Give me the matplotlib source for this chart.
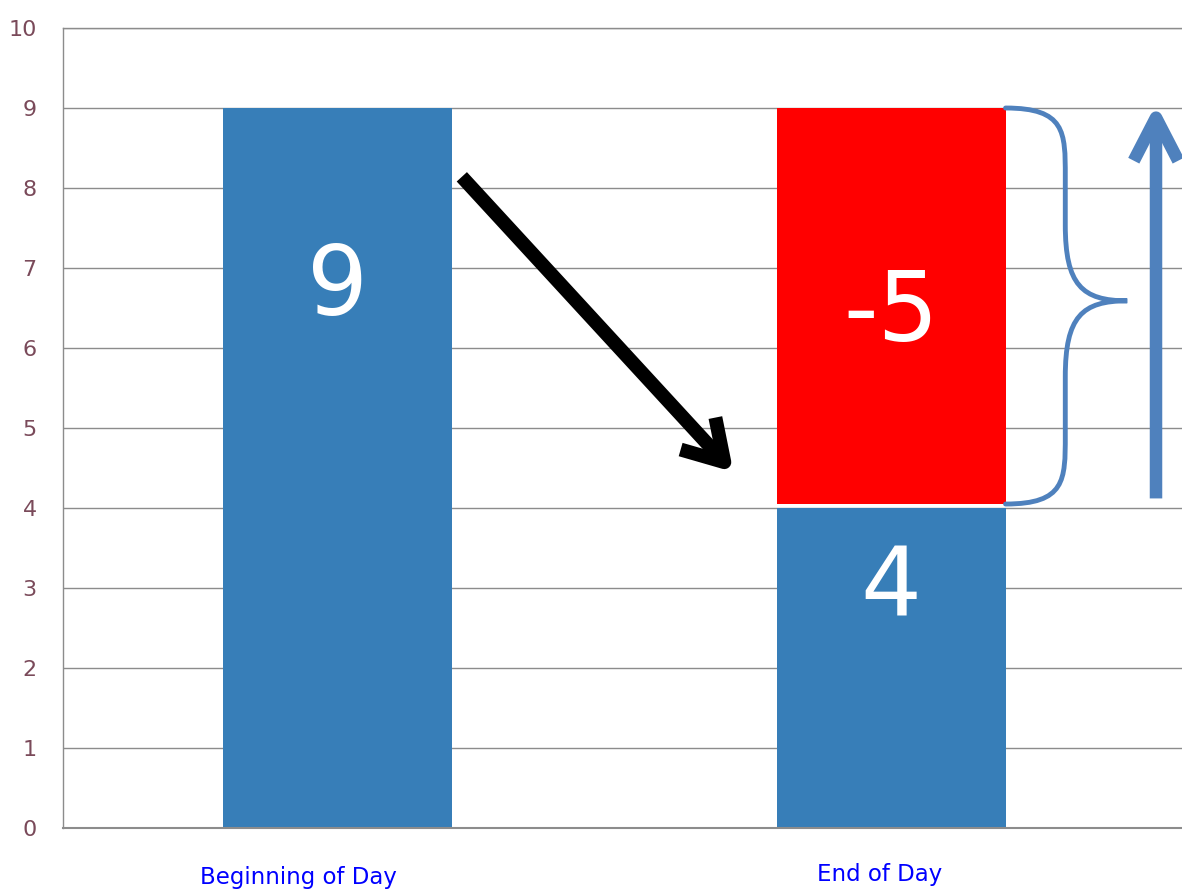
import matplotlib.pyplot as plt
from matplotlib.path import Path
from matplotlib.patches import PathPatch

# data
categories = ["Beginning of Day", "End of Day"]
start_value = 9
end_value = 4
change = -5
yticks = list(range(0, 11))

blue = '#377EB8'
red = '#FF0000'
accent = '#4F81BD'
tick_color = '#7A4A5A'

fig = plt.figure(figsize=(11.82, 8.92), dpi=100)
ax = fig.add_axes([0.0533, 0.0717, 0.9467, 0.8969])

bar_w = 0.414
x = [0, 1]
ax.bar(x[0], start_value, width=bar_w, color=blue, zorder=2)
ax.bar(x[1], end_value, width=bar_w, color=blue, zorder=2)
gap = 0.05
ax.bar(x[1], -change - gap, bottom=end_value + gap, width=bar_w, color=red, zorder=2)

ax.set_xlim(-0.497, 1.526)
ax.set_ylim(0, 10)
ax.set_yticks(yticks)
ax.set_xticks([])
ax.tick_params(axis='y', length=0, pad=19, labelsize=16, labelcolor=tick_color)
ax.yaxis.grid(True, color='#8c8c8c', lw=1.0)
ax.set_axisbelow(True)
ax.spines['right'].set_visible(False)
for s in ['left', 'bottom', 'top']:
    ax.spines[s].set_color('#8c8c8c')
    ax.spines[s].set_linewidth(1.0)
ax.spines['bottom'].set_linewidth(1.5)

# value labels inside the bars
big = 69
ax.text(x[0], start_value - 2.25, str(start_value), color='white', fontsize=big,
        ha='center', va='center', zorder=3)
ax.text(x[1], end_value - 1.02, str(end_value), color='white', fontsize=big,
        ha='center', va='center', zorder=3)
ax.text(x[1], end_value - change / 2 - 0.08, str(change), color='white', fontsize=big,
        ha='center', va='center', zorder=3)

# category labels below
ax.text(x[0] - 0.072, -0.62, categories[0], color='#0000FF', fontsize=16.5,
        ha='center', va='center', clip_on=False)
ax.text(x[1] - 0.021, -0.58, categories[1], color='#0000FF', fontsize=16.5,
        ha='center', va='center', clip_on=False)

# black arrow from first bar toward the end value
ax.annotate('', xy=(0.715, 4.45), xytext=(0.224, 8.14),
            arrowprops=dict(arrowstyle='->,head_length=2.8,head_width=1.7',
                            color='black', lw=10, shrinkA=0, shrinkB=0,
                            capstyle='butt'), zorder=4)

# curly brace beside the red segment
x0 = x[1] + bar_w / 2
xv = 1.315
xt = 1.427
top = start_value
bot = end_value + gap
mid = 6.59
verts = [
    (x0, top), (xv, top), (xv, top - 0.3), (xv, top - 0.85),
    (xv, mid + 0.95),
    (xv, mid + 0.2), (xv + 0.03, mid), (xt, mid),
    (xv + 0.03, mid), (xv, mid - 0.2), (xv, mid - 0.95),
    (xv, bot + 0.85),
    (xv, bot + 0.3), (xv, bot), (x0, bot),
]
codes = [Path.MOVETO, Path.CURVE4, Path.CURVE4, Path.CURVE4,
         Path.LINETO,
         Path.CURVE4, Path.CURVE4, Path.CURVE4,
         Path.CURVE4, Path.CURVE4, Path.CURVE4,
         Path.LINETO,
         Path.CURVE4, Path.CURVE4, Path.CURVE4]
brace = PathPatch(Path(verts, codes), fill=False, edgecolor=accent, lw=3.5,
                  capstyle='round', zorder=3)
ax.add_patch(brace)

# blue up arrow on the right
ax.annotate('', xy=(1.479, 9.05), xytext=(1.479, 4.12),
            arrowprops=dict(arrowstyle='->,head_length=3.1,head_width=1.6',
                            color=accent, lw=9, shrinkA=0, shrinkB=0,
                            capstyle='butt'), zorder=4)

fig.savefig('out.png', dpi=100)
